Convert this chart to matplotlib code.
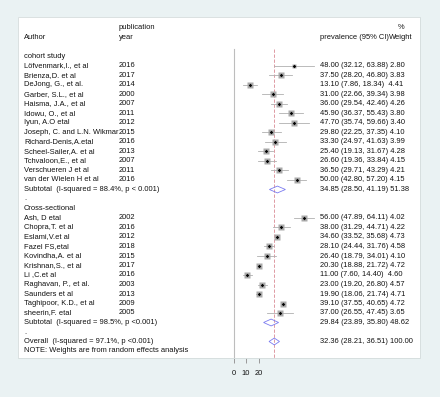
import matplotlib
matplotlib.use("Agg")
import matplotlib.pyplot as plt
import matplotlib.transforms as mtransforms
from matplotlib.patches import Polygon, Rectangle
import numpy as np

plt.rcParams['font.family'] = ['Liberation Sans', 'DejaVu Sans']

# ---------------- data ----------------
cohort_authors = ["Löfvenmark,I., et al", "Brienza,D. et al", "DeJong, G., et al.",
                  "Garber, S.L., et al", "Haisma, J.A., et al", "Idowu, O., et al",
                  "Iyun, A.O etal", "Joseph, C. and L.N. Wikmar", "Richard-Denis,A.etal",
                  "Scheel-Sailer,A. et al", "Tchvaloon,E., et al", "Verschueren J et al",
                  "van der Wielen H et al"]
cohort_years = ["2016", "2017", "2014", "2000", "2007", "2011", "2012", "2015",
                "2016", "2013", "2007", "2011", "2016"]
cohort_est = [48.00, 37.50, 13.10, 31.00, 36.00, 45.90, 47.70, 29.80, 33.30, 25.40, 26.60, 36.50, 50.00]
cohort_lo = [32.12, 28.20, 7.86, 22.66, 29.54, 36.37, 35.74, 22.25, 24.97, 19.13, 19.36, 29.71, 42.80]
cohort_hi = [63.88, 46.80, 18.34, 39.34, 42.46, 55.43, 59.66, 37.35, 41.63, 31.67, 33.84, 43.29, 57.20]
cohort_w = [2.80, 3.83, 4.41, 3.98, 4.26, 3.80, 3.40, 4.10, 3.99, 4.28, 4.15, 4.21, 4.15]
cohort_sub = (34.85, 28.50, 41.19, 51.38)
cohort_sub_label = "Subtotal  (I-squared = 88.4%, p < 0.001)"

cross_authors = ["Ash, D etal", "Chopra,T. et al", "Eslami,V.et al", "Fazel FS,etal",
                 "Kovindha,A. et al", "Krishnan,S., et al", "Li ,C.et al",
                 "Raghavan, P., et al.", "Saunders et al", "Taghipoor, K.D., et al",
                 "sheerin,F. etal"]
cross_years = ["2002", "2016", "2012", "2018", "2015", "2017", "2016", "2003", "2013", "2009", "2005"]
cross_est = [56.00, 38.00, 34.60, 28.10, 26.40, 20.30, 11.00, 23.00, 19.90, 39.10, 37.00]
cross_lo = [47.89, 31.29, 33.52, 24.44, 18.79, 18.88, 7.60, 19.20, 18.06, 37.55, 26.55]
cross_hi = [64.11, 44.71, 35.68, 31.76, 34.01, 21.72, 14.40, 26.80, 21.74, 40.65, 47.45]
cross_w = [4.02, 4.22, 4.73, 4.58, 4.10, 4.72, 4.60, 4.57, 4.71, 4.72, 3.65]
cross_sub = (29.84, 23.89, 35.80, 48.62)
cross_sub_label = "Subtotal  (I-squared = 98.5%, p <0.001)"

overall = (32.36, 28.21, 36.51, 100.00)
overall_label = "Overall  (I-squared = 97.1%, p <0.001)"
note_label = "NOTE: Weights are from random effects analysis"
x_ticks = [0, 10, 20]

# ---------------- layout ----------------
W, H = 440, 397
fig = plt.figure(figsize=(W / 100, H / 100), dpi=100)
fig.patch.set_facecolor('#EAF2F3')

L, R, T, B = 18, 420, 17, 358
ax = fig.add_axes([L / W, 1 - B / H, (R - L) / W, (B - T) / H])
ax.set_facecolor('white')
for s in ax.spines.values():
    s.set_visible(False)

px_per_unit = 1.26
x0_px = 233.5
ax.set_xlim((L - x0_px) / px_per_unit, (R - x0_px) / px_per_unit)
row_h = 9.5
row0_px = 66
ax.set_ylim((B - row0_px) / row_h, (T - row0_px) / row_h)

fs = 5.4
tr = mtransforms.blended_transform_factory(ax.transAxes, ax.transData)

def fx(px):
    return (px - L) / (R - L)

x_auth, x_year, x_est, x_w = fx(24), fx(119), fx(320), fx(389)

def txt(x, y, s, ha='left'):
    ax.text(x, y, s, transform=tr, fontsize=fs, va='center', ha=ha, color='#111111')

# headers
txt(x_auth, -3.05, "Author")
txt(x_year, -4.1, "publication")
txt(x_year, -3.05, "year")
txt(x_est, -3.05, "prevalence (95% CI)")
txt(x_w, -3.05, "Weight")
txt(fx(401), -4.1, "%", ha='center')

ytop = -1.8
ybot = ax.get_ylim()[0]
ax.plot([0, 0], [ytop, ybot], color='#bdbdbd', lw=0.8, zorder=1)
ax.plot([overall[0], overall[0]], [ytop, ybot], color='#d98a94', lw=0.6,
        dashes=(4, 2), zorder=1)

def fmt(e, l, h):
    return f"{e:.2f} ({l:.2f}, {h:.2f})"

def study(row, a, yr, e, l, h, w):
    txt(x_auth, row, a)
    txt(x_year, row, yr)
    sep = "  " if len(fmt(e, l, h)) < 20 else " "
    txt(x_est, row, fmt(e, l, h) + sep + f"{w:.2f}")
    ax.plot([l, h], [row, row], color='#b0b0b0', lw=0.6, zorder=2)
    ax.plot([e], [row], marker='s', ms=4.2 * np.sqrt(w / 4.41), color='#aaaaaa',
            mec='none', zorder=3)
    ax.plot([e], [row], marker='D', ms=1.8, color='black', mec='none', zorder=4)

def diamond(row, label, e, l, h, w):
    txt(x_auth, row, label)
    txt(x_est, row, fmt(e, l, h) + " " + f"{w:.2f}")
    ax.add_patch(Polygon([[l, row], [e, row - 0.36], [h, row], [e, row + 0.36]],
                         closed=True, fill=False, edgecolor='#7b7bf0', lw=0.6, zorder=3))

r = -1
txt(x_auth, r, "cohort study")
r += 1
for i in range(len(cohort_authors)):
    study(r, cohort_authors[i], cohort_years[i], cohort_est[i], cohort_lo[i], cohort_hi[i], cohort_w[i])
    r += 1
diamond(r, cohort_sub_label, *cohort_sub)
r += 1
txt(x_auth, r, ".")
r += 1
txt(x_auth, r, "Cross-sectional")
r += 1
for i in range(len(cross_authors)):
    study(r, cross_authors[i], cross_years[i], cross_est[i], cross_lo[i], cross_hi[i], cross_w[i])
    r += 1
diamond(r, cross_sub_label, *cross_sub)
r += 1
txt(x_auth, r, ".")
r += 1
diamond(r, overall_label, *overall)
r += 1
txt(x_auth, r, note_label)

ax.set_yticks([])
ax.set_xticks(x_ticks)
ax.set_xticklabels([str(t) for t in x_ticks])
ax.tick_params(axis='x', direction='out', length=3.6, width=0.7, color='#999999',
               labelsize=fs, pad=5, labelcolor='#111111')

# subtle border of white plot region
fig.patches.append(Rectangle((L / W, 1 - B / H), (R - L) / W, (B - T) / H,
                             transform=fig.transFigure, fill=False,
                             edgecolor='#d4dcdc', lw=0.6, zorder=10))

fig.savefig("out.png", dpi=100, facecolor=fig.get_facecolor())
